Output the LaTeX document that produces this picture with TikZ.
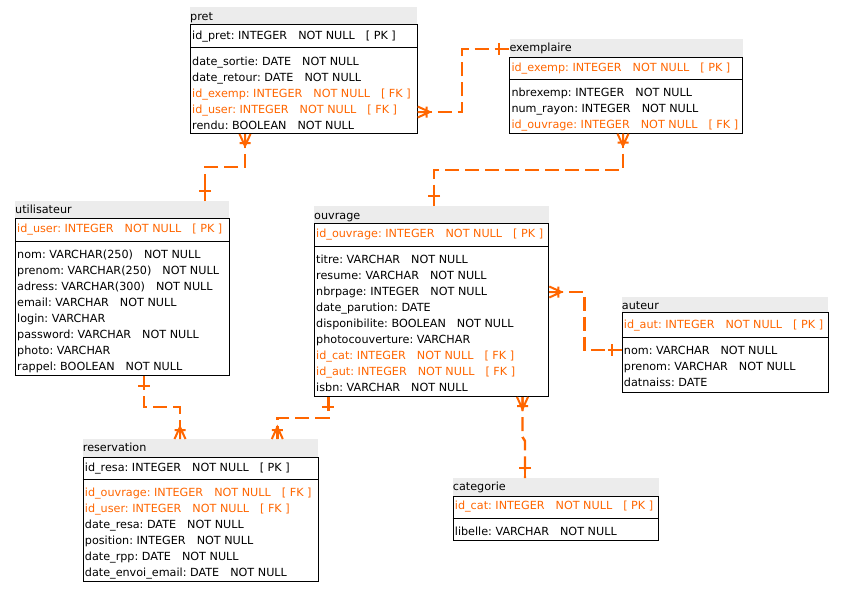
\documentclass[tikz,border=0pt]{standalone}
\usepackage{fontspec}
\setmainfont{DejaVu Sans}
\frenchspacing
\definecolor{fk}{RGB}{255,102,0}
\definecolor{titlebg}{RGB}{236,236,236}
\newcommand\gp{\hspace{11pt}}
\newcommand\crowfoot[2]{%
  \begin{scope}[shift={(#1)},rotate=#2]
    \draw[relsolid] (0,5.5) -- (12,0) -- (0,-5.5) (0,0) -- (12,0) (9,5.5) -- (9,-5.5);
  \end{scope}}
\newcommand\onebar[2]{%
  \begin{scope}[shift={(#1)},rotate=#2]
    \draw[relsolid] (0,0) -- (14,0) (10,6) -- (10,-6);
  \end{scope}}
\tikzset{
  tbl/.style={draw=black, line width=1pt, anchor=north west, inner sep=0pt},
  ttl/.style={fill=titlebg, anchor=north west, inner sep=0pt},
  ttltext/.style={anchor=base west, inner sep=0pt, font=\fontsize{11.2pt}{13pt}\selectfont},
  row/.style={anchor=base west, inner sep=0pt, font=\fontsize{11.2pt}{13pt}\selectfont},
  fkrow/.style={row, text=fk},
  sepline/.style={draw=black, line width=1pt},
  rel/.style={draw=fk, line width=2.4pt, dash pattern=on 14pt off 6pt},
  relsolid/.style={draw=fk, line width=2pt},
}
\begin{document}
\begin{tikzpicture}[x=1pt,y=-1pt]
\useasboundingbox[fill=white] (0,0) rectangle (843,600);

% ---------- pret ----------
\node[ttl, minimum width=226.7pt, minimum height=17pt] (pret-t) at (190,7) {};
\node[ttltext] (pret-tt) at (190,20) {pret};
\node[tbl, minimum width=226.7pt, minimum height=109pt] (pret) at (190,24) {};
\draw[sepline] (pret.west |- 0,47.5) -- (pret.east |- 0,47.5);
\node[row] (pret-1) at (192,39) {id\_pret: INTEGER\gp NOT NULL\gp [ PK ]};
\node[row] (pret-2) at (192,65) {date\_sortie: DATE\gp NOT NULL};
\node[row] (pret-3) at (192,81) {date\_retour: DATE\gp NOT NULL};
\node[fkrow] (pret-4) at (192,97) {id\_exemp: INTEGER\gp NOT NULL\gp [ FK ]};
\node[fkrow] (pret-5) at (192,113) {id\_user: INTEGER\gp NOT NULL\gp [ FK ]};
\node[row] (pret-6) at (192,129) {rendu: BOOLEAN\gp NOT NULL};

% ---------- exemplaire ----------
\node[ttl, minimum width=233pt, minimum height=17.5pt] (ex-t) at (509.3,39) {};
\node[ttltext] (ex-tt) at (509.3,51) {exemplaire};
\node[tbl, minimum width=233pt, minimum height=76pt] (ex) at (509.3,56.7) {};
\draw[sepline] (ex.west |- 0,79.3) -- (ex.east |- 0,79.3);
\node[fkrow] (ex-1) at (511.3,71) {id\_exemp: INTEGER\gp NOT NULL\gp [ PK ]};
\node[row] (ex-2) at (511.3,96) {nbrexemp: INTEGER\gp NOT NULL};
\node[row] (ex-3) at (511.3,112) {num\_rayon: INTEGER\gp NOT NULL};
\node[fkrow] (ex-4) at (511.3,128) {id\_ouvrage: INTEGER\gp NOT NULL\gp [ FK ]};

% ---------- utilisateur ----------
\node[ttl, minimum width=214pt, minimum height=17.3pt] (ut-t) at (15,201) {};
\node[ttltext] (ut-tt) at (15,213.3) {utilisateur};
\node[tbl, minimum width=214pt, minimum height=156.7pt] (ut) at (15,218.3) {};
\draw[sepline] (ut.west |- 0,241) -- (ut.east |- 0,241);
\node[fkrow] (ut-1) at (17,232.7) {id\_user: INTEGER\gp NOT NULL\gp [ PK ]};
\node[row] (ut-2) at (17,258.3) {nom: VARCHAR(250)\gp NOT NULL};
\node[row] (ut-3) at (17,274.3) {prenom: VARCHAR(250)\gp NOT NULL};
\node[row] (ut-4) at (17,290.3) {adress: VARCHAR(300)\gp NOT NULL};
\node[row] (ut-5) at (17,306.3) {email: VARCHAR\gp NOT NULL};
\node[row] (ut-6) at (17,322.3) {login: VARCHAR};
\node[row] (ut-7) at (17,338.3) {password: VARCHAR\gp NOT NULL};
\node[row] (ut-8) at (17,354.3) {photo: VARCHAR};
\node[row] (ut-9) at (17,370.3) {rappel: BOOLEAN\gp NOT NULL};

% ---------- ouvrage ----------
\node[ttl, minimum width=234.3pt, minimum height=17.3pt] (ou-t) at (314,206) {};
\node[ttltext] (ou-tt) at (314,219) {ouvrage};
\node[tbl, minimum width=234.3pt, minimum height=172.7pt] (ou) at (314,223.3) {};
\draw[sepline] (ou.west |- 0,246) -- (ou.east |- 0,246);
\node[fkrow] (ou-1) at (316,237.7) {id\_ouvrage: INTEGER\gp NOT NULL\gp [ PK ]};
\node[row] (ou-2) at (316,263.3) {titre: VARCHAR\gp NOT NULL};
\node[row] (ou-3) at (316,279.3) {resume: VARCHAR\gp NOT NULL};
\node[row] (ou-4) at (316,295.3) {nbrpage: INTEGER\gp NOT NULL};
\node[row] (ou-5) at (316,311.3) {date\_parution: DATE};
\node[row] (ou-6) at (316,327.3) {disponibilite: BOOLEAN\gp NOT NULL};
\node[row] (ou-7) at (316,343.3) {photocouverture: VARCHAR};
\node[fkrow] (ou-8) at (316,359.3) {id\_cat: INTEGER\gp NOT NULL\gp [ FK ]};
\node[fkrow] (ou-9) at (316,375.3) {id\_aut: INTEGER\gp NOT NULL\gp [ FK ]};
\node[row] (ou-10) at (316,391.3) {isbn: VARCHAR\gp NOT NULL};

% ---------- auteur ----------
\node[ttl, minimum width=206.3pt, minimum height=15.3pt] (au-t) at (621.7,297) {};
\node[ttltext] (au-tt) at (621.7,309) {auteur};
\node[tbl, minimum width=206.3pt, minimum height=79.4pt] (au) at (621.7,312.3) {};
\draw[sepline] (au.west |- 0,337) -- (au.east |- 0,337);
\node[fkrow] (au-1) at (623.7,328.3) {id\_aut: INTEGER\gp NOT NULL\gp [ PK ]};
\node[row] (au-2) at (623.7,354) {nom: VARCHAR\gp NOT NULL};
\node[row] (au-3) at (623.7,370) {prenom: VARCHAR\gp NOT NULL};
\node[row] (au-4) at (623.7,386) {datnaiss: DATE};

% ---------- reservation ----------
\node[ttl, minimum width=235pt, minimum height=17.7pt] (re-t) at (82.7,439) {};
\node[ttltext] (re-tt) at (82.7,451.7) {reservation};
\node[tbl, minimum width=235pt, minimum height=124.3pt] (re) at (82.7,456.7) {};
\draw[sepline] (re.west |- 0,479) -- (re.east |- 0,479);
\node[row] (re-1) at (84.7,471) {id\_resa: INTEGER\gp NOT NULL\gp [ PK ]};
\node[fkrow] (re-2) at (84.7,496.7) {id\_ouvrage: INTEGER\gp NOT NULL\gp [ FK ]};
\node[fkrow] (re-3) at (84.7,512.7) {id\_user: INTEGER\gp NOT NULL\gp [ FK ]};
\node[row] (re-4) at (84.7,528.7) {date\_resa: DATE\gp NOT NULL};
\node[row] (re-5) at (84.7,544.7) {position: INTEGER\gp NOT NULL};
\node[row] (re-6) at (84.7,560.7) {date\_rpp: DATE\gp NOT NULL};
\node[row] (re-7) at (84.7,576.7) {date\_envoi\_email: DATE\gp NOT NULL};

% ---------- categorie ----------
\node[ttl, minimum width=205.7pt, minimum height=17.7pt] (ca-t) at (452.7,478) {};
\node[ttltext] (ca-tt) at (452.7,490.7) {categorie};
\node[tbl, minimum width=205.7pt, minimum height=44.3pt] (ca) at (452.7,495.7) {};
\draw[sepline] (ca.west |- 0,518.3) -- (ca.east |- 0,518.3);
\node[fkrow] (ca-1) at (454.7,509.3) {id\_cat: INTEGER\gp NOT NULL\gp [ PK ]};
\node[row] (ca-2) at (454.7,535) {libelle: VARCHAR\gp NOT NULL};

% ---------- relations ----------
% pret -> exemplaire
\draw[rel] (pret.east |- 0,112) -| (462,49) -- (ex-t.west |- 0,49);
\crowfoot{pret.east |- 0,112}{0}
\onebar{ex-t.west |- 0,49}{180}
% pret -> utilisateur
\draw[rel] (pret.south -| 245,0) -- (245,167) -| (ut-t.north -| 205,0);
\crowfoot{pret.south -| 245,0}{270}
\onebar{ut-t.north -| 205,0}{90}
% exemplaire -> ouvrage
\draw[rel] (ex.south -| 623,0) -- (623,169.7) -| (ou-t.north -| 434,0);
\crowfoot{ex.south -| 623,0}{270}
\onebar{ou-t.north -| 434,0}{90}
% ouvrage -> auteur
\draw[rel] (ou.east |- 0,292) -| (584.5,350) -- (au.west |- 0,350);
\crowfoot{ou.east |- 0,292}{0}
\onebar{au.west |- 0,350}{180}
% ouvrage -> categorie
\draw[rel] (ou.south -| 522.5,0) -- (522.5,437) -- (525,441) -- (ca-t.north -| 525,0);
\crowfoot{ou.south -| 522.5,0}{270}
\onebar{ca-t.north -| 525,0}{90}
% utilisateur -> reservation
\draw[rel] (ut.south -| 144,0) -- (144,406.7) -| (re-t.north -| 180,0);
\onebar{ut.south -| 144,0}{270}
\crowfoot{re-t.north -| 180,0}{90}
% ouvrage -> reservation
\draw[rel] (ou.south -| 328.3,0) -- (328.3,417.7) -| (re-t.north -| 277.3,0);
\onebar{ou.south -| 328.3,0}{270}
\crowfoot{re-t.north -| 277.3,0}{90}
\end{tikzpicture}
\end{document}
